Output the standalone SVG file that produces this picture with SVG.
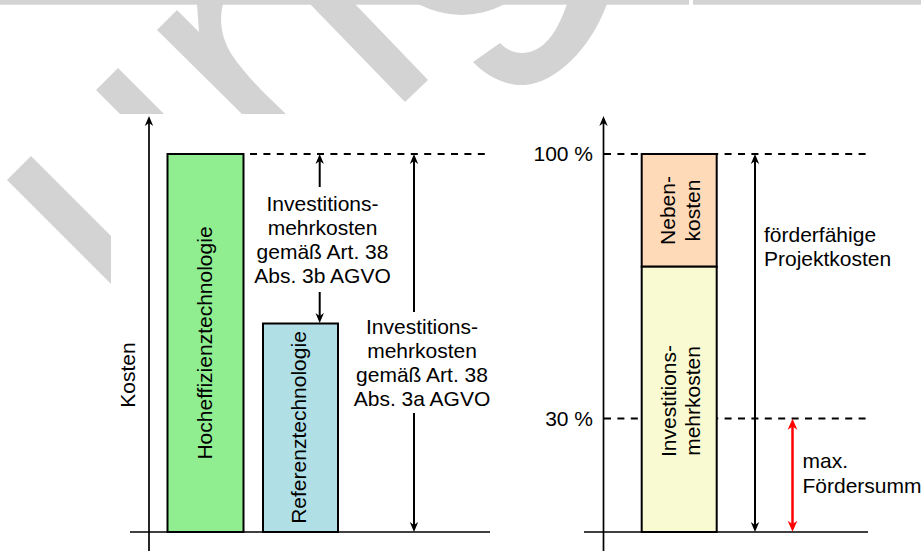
<svg xmlns="http://www.w3.org/2000/svg" width="921" height="551" viewBox="0 0 921 551">
<defs>
<style>
.t{font-family:"Liberation Sans",Arial,sans-serif;font-size:21px;fill:#000}
.c{text-anchor:middle}
.ax{stroke:#000;stroke-width:1.7;fill:none}
.bar{stroke:#000;stroke-width:2}
.dash{stroke:#000;stroke-width:2;stroke-dasharray:7 6.4;fill:none}
.arr{stroke:#000;stroke-width:2;fill:none}
.red{stroke:#ff0000;stroke-width:2.5;fill:none}
.wm{fill:#d3d3d3}
</style>
<marker id="ah" markerUnits="userSpaceOnUse" viewBox="0 0 10 10" refX="7" refY="5" markerWidth="10" markerHeight="10" orient="auto-start-reverse"><path d="M0,0.8 L10,5 L0,9.2 L3,5 Z" fill="#000"/></marker>
<marker id="ahr" markerUnits="userSpaceOnUse" viewBox="0 0 10 10" refX="7" refY="5" markerWidth="11" markerHeight="11" orient="auto-start-reverse"><path d="M0,0.6 L10,5 L0,9.4 L3,5 Z" fill="#ff0000"/></marker>
</defs>
<rect width="921" height="551" fill="#fff"/>
<g id="watermark">
<rect class="wm" x="0" y="0" width="689" height="4.7"/>
<rect class="wm" x="693" y="0" width="228" height="4.7"/>
<polygon class="wm" points="7,180 31,156 111,236 111,284"/>
<polygon class="wm" points="96,90 118,68 164,114 120,114"/>
<path class="wm" d="M157,30 L177,10 L199,32 L197,4 L223,4 C219,20 221,38 232,55 C246,76 268,97 286,114 L242,114 Z"/>
<polygon class="wm" points="310,4 355,4 428,80 405,102"/>
<path class="wm" d="M418,4 Q462,26 505,4 Z"/>
<path class="wm" d="M473,62 C485,75 505,86 525,85 C555,83 590,50 607,4 L567,4 C558,30 545,52 523,53 C512,53 505,48 500,43 Z"/>
</g>
<g id="connectors">
<line class="dash" x1="250" y1="154" x2="490" y2="154" stroke-dasharray="6.67 6.67"/>
<line class="dash" x1="604" y1="154" x2="868" y2="154"/>
<line class="dash" x1="604" y1="418.5" x2="868" y2="418.5"/>
<line class="ax" x1="149" y1="551" x2="149" y2="119" marker-end="url(#ah)"/>
<line class="ax" x1="130" y1="532" x2="490" y2="532"/>
<line class="ax" x1="603.5" y1="551" x2="603.5" y2="119" marker-end="url(#ah)"/>
<line class="ax" x1="584" y1="532" x2="868" y2="532"/>
<line class="arr" x1="319.7" y1="187" x2="319.7" y2="157" marker-end="url(#ah)"/>
<line class="arr" x1="319.7" y1="292" x2="319.7" y2="320" marker-end="url(#ah)"/>
<line class="arr" x1="414" y1="312" x2="414" y2="157" marker-end="url(#ah)"/>
<line class="arr" x1="414" y1="413" x2="414" y2="529" marker-end="url(#ah)"/>
<line class="arr" x1="755" y1="157" x2="755" y2="529" marker-start="url(#ah)" marker-end="url(#ah)"/>
<line class="red" x1="792.5" y1="422" x2="792.5" y2="528.5" marker-start="url(#ahr)" marker-end="url(#ahr)"/>
</g>
<g id="hocheffizienz">
<rect class="bar" x="167.5" y="154" width="76" height="378" fill="#90ee90"/>
<text class="t c" transform="translate(212,343) rotate(-90)">Hocheffizienztechnologie</text>
</g>
<g id="referenz">
<rect class="bar" x="263" y="323.5" width="75" height="208.5" fill="#b0e0e6"/>
<text class="t c" transform="translate(306,427.5) rotate(-90)">Referenztechnologie</text>
</g>
<g id="kosten-label">
<text class="t c" transform="translate(135,375) rotate(-90)">Kosten</text>
</g>
<g id="label-3b">
<text class="t c" x="322.5" y="211">Investitions-</text>
<text class="t c" x="322.5" y="235">mehrkosten</text>
<text class="t c" x="322.5" y="259">gemäß Art. 38</text>
<text class="t c" x="322.5" y="283">Abs. 3b AGVO</text>
</g>
<g id="label-3a">
<text class="t c" x="422" y="334">Investitions-</text>
<text class="t c" x="422" y="358">mehrkosten</text>
<text class="t c" x="422" y="382">gemäß Art. 38</text>
<text class="t c" x="422" y="406">Abs. 3a AGVO</text>
</g>
<g id="axis-labels">
<text class="t" x="593" y="161" text-anchor="end">100 %</text>
<text class="t" x="593" y="426" text-anchor="end">30 %</text>
</g>
<g id="nebenkosten">
<rect class="bar" x="641.7" y="154" width="75" height="112.7" fill="#ffdab9"/>
<text class="t c" transform="translate(675,210.5) rotate(-90)">Neben-</text>
<text class="t c" transform="translate(699.5,210.5) rotate(-90)">kosten</text>
</g>
<g id="investitionsmehrkosten">
<rect class="bar" x="641.7" y="266.7" width="75" height="265.3" fill="#fafad2"/>
<text class="t c" transform="translate(675.5,401) rotate(-90)">Investitions-</text>
<text class="t c" transform="translate(700,401) rotate(-90)">mehrkosten</text>
</g>
<g id="projektkosten-label">
<text class="t" x="764" y="242">förderfähige</text>
<text class="t" x="764" y="266">Projektkosten</text>
</g>
<g id="foerdersumme-label">
<text class="t" x="802.5" y="468">max.</text>
<text class="t" x="802.5" y="492.5">Fördersumme</text>
</g>
</svg>
